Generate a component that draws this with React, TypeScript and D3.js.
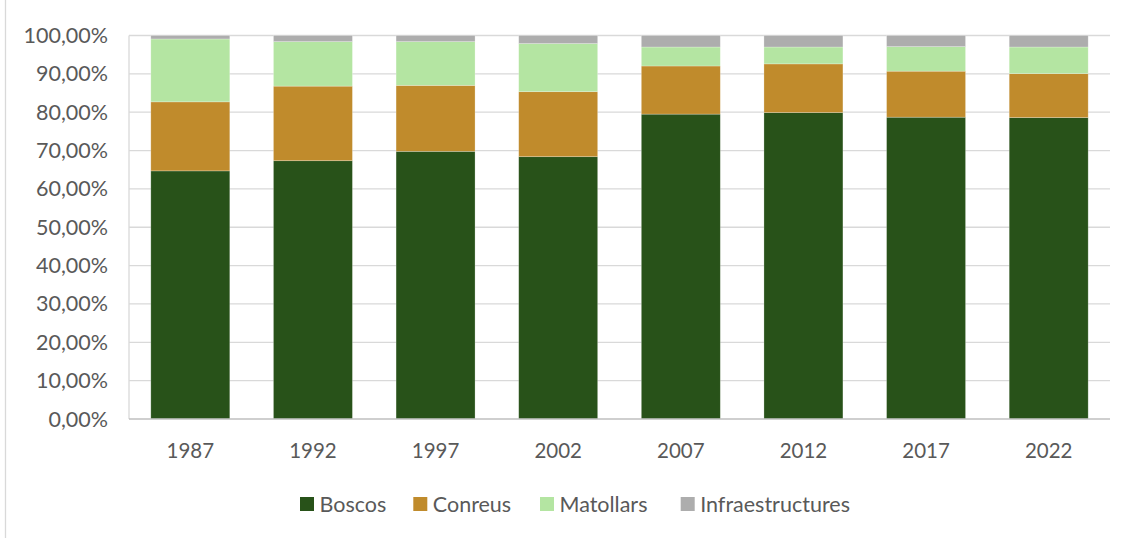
import React from "react";
import * as d3 from "d3";

const years = ["1987", "1992", "1997", "2002", "2007", "2012", "2017", "2022"];
const boscos = [64.7, 67.35, 69.8, 68.4, 79.5, 79.9, 78.7, 78.6];
const conreus = [18.0, 19.45, 17.2, 16.95, 12.55, 12.7, 12.0, 11.45];
const matollars = [16.4, 11.6, 11.4, 12.55, 4.95, 4.4, 6.4, 6.95];
const infraestructures = [0.9, 1.6, 1.6, 2.1, 3.0, 3.0, 2.9, 3.0];
const seriesNames = ["Boscos", "Conreus", "Matollars", "Infraestructures"];
const seriesColors = ["#285219", "#C08B2C", "#B4E5A2", "#ADADAD"];
const yTicks = [0, 10, 20, 30, 40, 50, 60, 70, 80, 90, 100];

const W = 1132;
const H = 538;
const left = 129;
const right = 1110;
const top = 35.5;
const bottom = 419;
const FONT = "Lato, 'Open Sans', sans-serif";
const TEXT = "#595959";

export default function App() {
  const rows = years.map((y, i) => ({
    year: y,
    Boscos: boscos[i],
    Conreus: conreus[i],
    Matollars: matollars[i],
    Infraestructures: infraestructures[i],
  }));
  const stacked = d3.stack<any>().keys(seriesNames)(rows);
  const x = d3.scaleBand<string>().domain(years).range([left, right]).paddingInner(0.356).paddingOuter(0.178);
  const y = d3.scaleLinear().domain([0, 100]).range([bottom, top]);
  const fmt = (v: number) => d3.format(".2f")(v).replace(".", ",") + "%";

  const legendX = [300, 413.3, 540, 680.7];

  return (
    <svg width={W} height={H} style={{ position: "absolute", left: 0, top: 0, background: "#fff" }} fontFamily={FONT}>
      <rect x={0} y={0} width={W} height={H} fill="#fff" />
      <line x1={5.5} x2={5.5} y1={0} y2={H} stroke="#D9D9D9" strokeWidth={1.3} />
      {yTicks.map((t) => (
        <g key={t}>
          {t > 0 && (
            <line x1={left} x2={right} y1={y(t)} y2={y(t)} stroke="#D9D9D9" strokeWidth={1.3} />
          )}
          <text x={108} y={y(t)} dy="0.35em" textAnchor="end" fontSize={21.5} fill={TEXT}>
            {fmt(t)}
          </text>
        </g>
      ))}
      <line x1={left} x2={left} y1={top} y2={bottom} stroke="#D9D9D9" strokeWidth={1.3} />
      {stacked.map((s, si) => (
        <g key={s.key} fill={seriesColors[si]}>
          {s.map((d: any, i: number) => (
            <rect
              key={i}
              x={x(years[i])}
              width={x.bandwidth()}
              y={y(d[1])}
              height={y(d[0]) - y(d[1])}
              stroke="#ffffff"
              strokeOpacity={0.35}
              strokeWidth={0.7}
            />
          ))}
        </g>
      ))}
      <line x1={left} x2={right} y1={bottom} y2={bottom} stroke="#BFBFBF" strokeWidth={1.3} />
      {years.map((yr) => (
        <text key={yr} x={(x(yr) as number) + x.bandwidth() / 2} y={451} dy="0.35em" textAnchor="middle" fontSize={20.5} fill={TEXT}>
          {yr}
        </text>
      ))}
      {seriesNames.map((n, i) => (
        <g key={n}>
          <rect x={legendX[i]} y={497} width={14} height={14} fill={seriesColors[i]} />
          <text x={legendX[i] + 19.5} y={504} dy="0.35em" fontSize={21.5} fill={TEXT}>
            {n}
          </text>
        </g>
      ))}
    </svg>
  );
}
